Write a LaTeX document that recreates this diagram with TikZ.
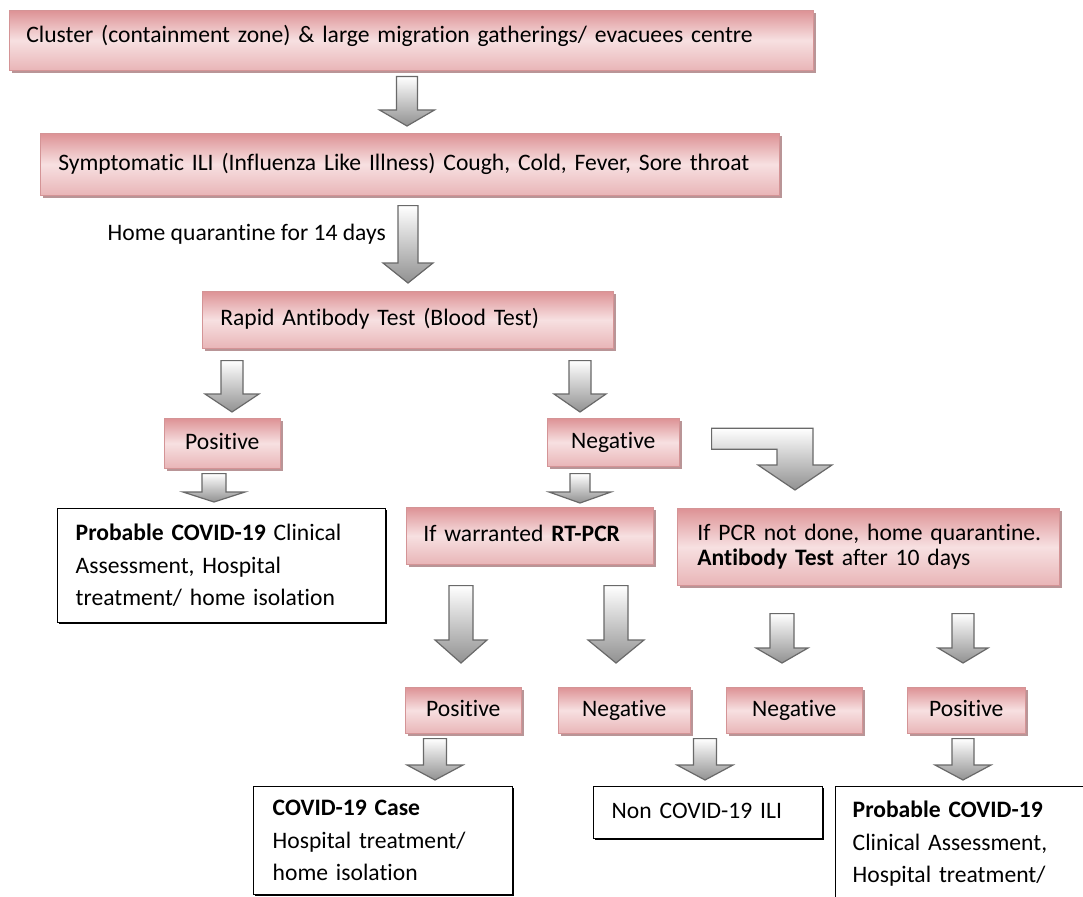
\documentclass[tikz,border=0pt]{standalone}
\usepackage{fontspec}
\setmainfont{Carlito}[Ligatures=NoCommon]
\usetikzlibrary{calc,shadows}

\definecolor{roseA}{RGB}{221,146,149}
\definecolor{roseB}{RGB}{247,224,225}
\definecolor{roseline}{RGB}{212,148,150}
\definecolor{roseshade}{RGB}{178,138,140}
\definecolor{arrowline}{RGB}{105,105,105}
\definecolor{arrowfill}{RGB}{145,145,145}

\tikzset{
  rosebox/.style={anchor=north west, draw=roseline, line width=0.6pt,
    top color=roseA, bottom color=roseA!55!roseB, middle color=roseB,
    drop shadow={shadow xshift=2.5pt, shadow yshift=-3pt, fill=roseshade, opacity=0.9},
    inner sep=0pt, font=\fontsize{23.6}{25}\selectfont},
  oneline/.style={text height=17pt, text depth=5pt},
  blackbox/.style={anchor=north west, draw=black, line width=1.4pt, fill=white,
    drop shadow={shadow xshift=1.3pt, shadow yshift=-1.3pt, fill=black, opacity=1},
    inner ysep=0pt, align=left, font=\fontsize{23.6}{32.5}\selectfont},
  blockarr/.style={draw=arrowline, line width=1.2pt, line join=miter,
    top color=white, bottom color=arrowfill},
}

% from, to, shaft half width, head half width, head length
\newcommand{\blockarrow}[5]{%
  \draw[blockarr] let \p1=#1, \p2=#2 in
    (\x1-#3pt,\y1) -- (\x1+#3pt,\y1) -- (\x1+#3pt,\y2+#5pt) -- (\x1+#4pt,\y2+#5pt)
    -- (\x1,\y2) -- (\x1-#4pt,\y2+#5pt) -- (\x1-#3pt,\y2+#5pt) -- cycle;}

\begin{document}
\begin{tikzpicture}[x=1pt,y=-1pt]
\useasboundingbox (0,0) rectangle (1083,896);
\fill[white] (0,0) rectangle (1083,896);

\node[rosebox, text height=17pt, text depth=13pt, text width=770pt, inner xsep=17pt, minimum height=60pt, align=left] (cluster) at (9,10)
  {Cluster (containment zone) \& large migration gatherings/ evacuees centre};
\node[rosebox, oneline, text width=711pt, inner xsep=14pt, minimum height=62pt, align=left] (symptom) at (40,133)
  {\hspace*{4pt}Symptomatic ILI (Influenza Like Illness) Cough, Cold, Fever, Sore throat};
\node[anchor=east, font=\fontsize{23.6}{25}\selectfont, inner sep=0pt] (homeq) at (386,234) {Home quarantine for 14 days};
\node[rosebox, oneline, text width=379pt, inner xsep=16pt, minimum height=57pt, align=left] (rapid) at (202,291)
  {\hspace*{2pt}Rapid Antibody Test (Blood Test)};

\node[rosebox, oneline, minimum width=116pt, minimum height=50pt] (posA) at (164,418) {Positive};
\node[rosebox, oneline, minimum width=132pt, minimum height=48pt] (negA) at (547,418) {Negative};

\node[blackbox, text width=300pt, inner xsep=14pt, minimum height=114pt] (probA) at (57,508)
  {\hspace*{4pt}\textbf{Probable COVID-19} Clinical\\ \hspace*{4pt}Assessment, Hospital\\ \hspace*{4pt}treatment/ home isolation};
\node[rosebox, oneline, text width=227pt, inner xsep=10pt, minimum height=57pt, align=left] (rtpcr) at (406,507)
  {\hspace*{7pt}If warranted \textbf{RT-PCR}};
\node[rosebox, text width=362pt, inner xsep=10pt, minimum height=77pt, align=left] (pcr) at (677,508)
  {\hspace*{10pt}If PCR not done, home quarantine.\\ \hspace*{10pt}\textbf{Antibody Test} after 10 days};

\foreach \nm/\x/\w/\t in {posB/405/116/Positive, negB/558/132/Negative, negC/726/136/Negative, posC/907/118/Positive}
  \node[rosebox, oneline, minimum width=\w pt, minimum height=46pt] (\nm) at (\x,687) {\t};

\node[blackbox, text width=231pt, inner xsep=14pt, minimum height=108pt] (caseB) at (253,786)
  {\hspace*{5pt}\textbf{COVID-19 Case}\\ \hspace*{5pt}Hospital treatment/\\ \hspace*{5pt}home isolation};
\node[blackbox, oneline, text width=201pt, inner xsep=14pt, minimum height=52pt] (nonB) at (593,786)
  {\hspace*{4pt}Non COVID-19 ILI};
\node[blackbox, text width=232pt, inner xsep=14pt, minimum height=114pt] (probC) at (835,786)
  {\hspace*{3pt}\textbf{Probable COVID-19}\\ \hspace*{3pt}Clinical Assessment,\\ \hspace*{3pt}Hospital treatment/};

% x positions of the block arrows
\foreach \n/\x in {a1/407, a2/408, a3/232, a4/580, a5/214, a6/580, a7/461, a8/616,
                   a9/782, a10/963, a11/435, a12/705, a13/963, a14/795}
  \coordinate (\n) at (\x,0);

\blockarrow{($(a1 |- cluster.south)+(0,6)$)}{($(a1 |- symptom.north)+(0,-7)$)}{10.5}{27.5}{16}
\blockarrow{($(a2 |- symptom.south)+(0,10)$)}{($(a2 |- rapid.north)+(0,-8)$)}{10}{25}{20}
\blockarrow{($(a3 |- rapid.south)+(0,12)$)}{($(a3 |- posA.north)+(0,-6)$)}{11}{27}{18}
\blockarrow{($(a4 |- rapid.south)+(0,12)$)}{($(a4 |- negA.north)+(0,-6)$)}{11}{26}{18}
\blockarrow{($(a5 |- posA.south)+(0,5)$)}{($(a5 |- probA.north)+(0,-6)$)}{12}{31}{10}
\blockarrow{($(a6 |- negA.south)+(0,7)$)}{($(a6 |- rtpcr.north)+(0,-4)$)}{10}{31}{11}
\blockarrow{($(a7 |- rtpcr.south)+(0,21)$)}{($(a7 |- posB.north)+(0,-24)$)}{12}{26}{23}
\blockarrow{($(a8 |- rtpcr.south)+(0,21)$)}{($(a8 |- negB.north)+(0,-24)$)}{12}{28}{23}
\blockarrow{($(a9 |- pcr.south)+(0,28)$)}{($(a9 |- negC.north)+(0,-24)$)}{12}{26}{15}
\blockarrow{($(a10 |- pcr.south)+(0,28)$)}{($(a10 |- posC.north)+(0,-24)$)}{11}{25}{15}
\blockarrow{($(a11 |- posB.south)+(0,5)$)}{($(a11 |- caseB.north)+(0,-6)$)}{11.5}{28}{15}
\blockarrow{($(a12 |- negB.south)+(0,5)$)}{($(a12 |- nonB.north)+(0,-6)$)}{11.5}{28}{15}
\blockarrow{($(a13 |- posC.south)+(0,5)$)}{($(a13 |- probC.north)+(0,-6)$)}{11}{28}{15}

% bent arrow from Negative to the antibody retest box
\draw[blockarr] let \p1=($(negA.east)+(32,-3.5)$), \p2=($(a14 |- pcr.north)+(0,-18)$) in
  (\x1,\y1+10.5pt) -- (\x2+18pt,\y1+10.5pt) -- (\x2+18pt,\y2+25pt) -- (\x2+37pt,\y2+25pt)
  -- (\x2,\y2) -- (\x2-37pt,\y2+25pt) -- (\x2-18pt,\y2+25pt) -- (\x2-18pt,\y1-10.5pt)
  -- (\x1,\y1-10.5pt) -- cycle;
\end{tikzpicture}
\end{document}
